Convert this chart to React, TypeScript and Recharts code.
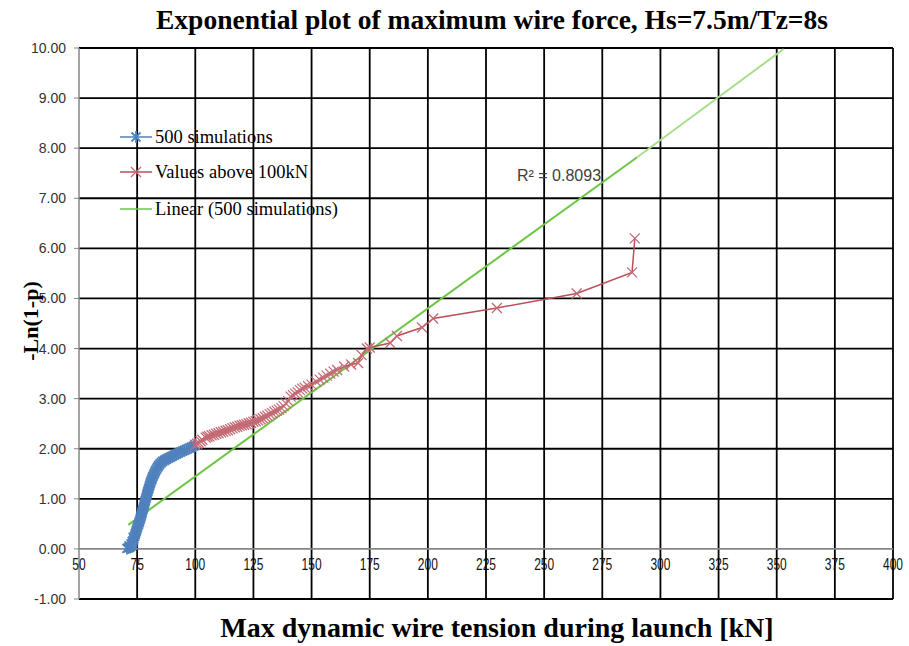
import React from 'react';
import { ScatterChart, Scatter, XAxis, YAxis, CartesianGrid, ReferenceLine } from 'recharts';

// axis ticks
const X_TICKS = [50, 75, 100, 125, 150, 175, 200, 225, 250, 275, 300, 325, 350, 375, 400];
const Y_TICKS = [-1, 0, 1, 2, 3, 4, 5, 6, 7, 8, 9, 10];

// [max wire tension kN, -ln(1-p)]
const SIMULATIONS: [number, number][] = [
  [70.6, 0.01], [71.2, 0.02], [71.8, 0.03], [72.3, 0.05], [71.5, 0.06], [72.8, 0.08], [72.4, 0.1],
  [73.1, 0.12], [72.9, 0.15], [73.4, 0.17], [73.6, 0.2], [73.3, 0.23], [73.9, 0.25], [74.1, 0.28],
  [74.3, 0.31], [74.5, 0.34], [74.7, 0.37], [74.9, 0.4], [75.1, 0.43], [75.3, 0.46], [75.6, 0.49],
  [75.8, 0.52], [76.0, 0.55], [76.2, 0.58], [76.4, 0.61], [76.6, 0.64], [76.8, 0.67], [77.0, 0.7],
  [77.1, 0.73], [77.3, 0.76], [77.5, 0.79], [77.7, 0.82], [77.9, 0.85], [78.0, 0.88], [78.2, 0.91],
  [78.4, 0.94], [78.5, 0.97], [78.7, 1.0], [78.9, 1.03], [79.1, 1.06], [79.2, 1.09], [79.4, 1.12],
  [79.6, 1.15], [79.8, 1.18], [80.0, 1.21], [80.2, 1.24], [80.4, 1.27], [80.6, 1.3], [80.8, 1.33],
  [81.0, 1.36], [81.3, 1.39], [81.5, 1.42], [81.8, 1.45], [82.1, 1.48], [82.4, 1.51], [82.7, 1.54],
  [83.0, 1.57], [83.4, 1.6], [83.8, 1.63], [84.2, 1.66], [84.7, 1.69], [85.3, 1.72], [86.0, 1.75],
  [86.8, 1.77], [87.5, 1.79], [88.3, 1.81], [89.2, 1.83], [90.0, 1.85], [90.9, 1.87], [91.8, 1.89],
  [92.7, 1.91], [93.6, 1.93], [94.5, 1.95], [95.4, 1.97], [96.4, 1.99], [97.4, 2.01], [98.4, 2.03],
  [99.3, 2.05], [100.0, 2.07],
];

const ABOVE_100: [number, number][] = [
  [100.0, 2.08], [100.8, 2.1], [101.5, 2.12], [102.3, 2.15], [103, 2.18], [104.5, 2.22], [105.2, 2.24],
  [106, 2.25], [107, 2.27], [108, 2.28], [109, 2.3], [110, 2.31], [111, 2.33], [112, 2.34], [113, 2.36],
  [114, 2.37], [115, 2.39], [116, 2.41], [117, 2.43], [118, 2.44], [119, 2.46], [120, 2.47], [121, 2.48],
  [122, 2.49], [123, 2.51], [124, 2.52], [125, 2.54], [126, 2.55], [127, 2.57], [128, 2.59], [129, 2.61],
  [130, 2.64], [131, 2.66], [132, 2.69], [133, 2.71], [134, 2.74], [135, 2.76], [136, 2.78], [137, 2.81],
  [138, 2.85], [139, 2.9], [140, 2.95], [141, 3.04], [142, 3.07], [143, 3.1], [144, 3.13], [145, 3.17],
  [146, 3.2], [147, 3.22], [148.5, 3.25], [150, 3.28], [152, 3.34], [153.5, 3.38], [155, 3.42],
  [156.5, 3.46], [158, 3.5], [159.5, 3.54], [161, 3.57], [164, 3.64], [167, 3.68], [170, 3.71],
  [171.5, 3.87], [173.8, 4.0], [175, 4.02], [183.8, 4.11], [186.7, 4.25], [197.5, 4.42], [202.3, 4.6],
  [229.7, 4.81], [264, 5.1], [287.8, 5.52], [289, 6.2],
];

// linear trendline, fitted part and forward forecast
const TREND_FIT: [number, number][] = [[71.2, 0.48], [290, 7.82]];
const TREND_FORECAST: [number, number][] = [[290, 7.82], [353, 9.98]];
const R2_LABEL = 'R² = 0.8093';

const BLUE = '#4f81bd';
const RED = '#b9505a';
const GREEN = '#6cc644';
const GREEN_LIGHT = '#a9de8c';
const AXIS_GRAY = '#868686';

const W = 909;
const H = 646;
const PLOT = { left: 79, top: 48, right: 893, bottom: 599 };
const ZERO_Y = PLOT.top + (10 / 11) * (PLOT.bottom - PLOT.top);

const toPts = (arr: [number, number][]) => arr.map(([x, y]) => ({ x, y }));

const StarMark = (props: any) => {
  const { cx, cy } = props;
  const r = 6;
  const d = r * 0.75;
  return (
    <g stroke={BLUE} strokeWidth={1.8}>
      <line x1={cx - d} y1={cy - d} x2={cx + d} y2={cy + d} />
      <line x1={cx - d} y1={cy + d} x2={cx + d} y2={cy - d} />
      <line x1={cx} y1={cy - r} x2={cx} y2={cy + r} />
    </g>
  );
};

const CrossMark = (props: any) => {
  const { cx, cy } = props;
  const d = 5;
  return (
    <g stroke="#c46a75" strokeWidth={1.3}>
      <line x1={cx - d} y1={cy - d} x2={cx + d} y2={cy + d} />
      <line x1={cx - d} y1={cy + d} x2={cx + d} y2={cy - d} />
    </g>
  );
};

const NoMark = () => <g />;

const renderXTick = (props: any) => {
  const { x, payload } = props;
  return (
    <g transform={`translate(${x},${ZERO_Y + 21}) scale(0.75,1)`}>
      <text x={0} y={0} textAnchor="middle" fontSize={16} fill="#111" fontFamily="'Liberation Sans', Arial, sans-serif">
        {payload.value}
      </text>
    </g>
  );
};

const serif = "'Liberation Serif', 'Times New Roman', serif";

function LegendRow({ top, label, kind }: { top: number; label: string; kind: 'star' | 'x' | 'line' }) {
  const color = kind === 'star' ? BLUE : kind === 'x' ? RED : GREEN;
  return (
    <div style={{ position: 'absolute', left: 120, top: top - 12, height: 24, display: 'flex', alignItems: 'center' }}>
      <svg width={33} height={24}>
        <line x1={0} y1={12} x2={32} y2={12} stroke={color} strokeWidth={1.5} />
        {kind === 'star' && <StarMark cx={16} cy={12} />}
        {kind === 'x' && <CrossMark cx={16} cy={12} />}
      </svg>
      <span style={{ fontFamily: serif, fontSize: 18.5, color: '#000', marginLeft: 2, whiteSpace: 'nowrap' }}>{label}</span>
    </div>
  );
}

export default function App() {
  return (
    <div style={{ position: 'absolute', left: 0, top: 0, width: W, height: H, background: '#fff', overflow: 'hidden' }}>
      <ScatterChart
        width={W}
        height={H}
        margin={{ top: PLOT.top, right: W - PLOT.right, bottom: H - PLOT.bottom - 20, left: 0 }}
      >
        <CartesianGrid
          stroke="#000"
          strokeWidth={1.8}
          horizontalValues={Y_TICKS.filter(v => v !== 0)}
          verticalValues={X_TICKS.filter(v => v !== 50)}
        />
        <XAxis
          type="number"
          dataKey="x"
          domain={[50, 400]}
          ticks={X_TICKS}
          height={20}
          axisLine={false}
          tickLine={false}
          tick={renderXTick}
          interval={0}
          allowDataOverflow
        />
        <YAxis
          type="number"
          dataKey="y"
          domain={[-1, 10]}
          ticks={Y_TICKS}
          width={PLOT.left}
          interval={0}
          tickFormatter={(v: number) => v.toFixed(2)}
          axisLine={{ stroke: AXIS_GRAY, strokeWidth: 1.5 }}
          tickLine={{ stroke: AXIS_GRAY }}
          tickSize={5}
          tickMargin={8}
          tick={{ fontSize: 14, fill: '#333', fontFamily: "'Liberation Sans', Arial, sans-serif" }}
          allowDataOverflow
        />
        <ReferenceLine y={0} stroke={AXIS_GRAY} strokeWidth={1.8} />
        <Scatter data={toPts(TREND_FIT)} line={{ stroke: GREEN, strokeWidth: 2 }} lineType="joint" shape={<NoMark />} isAnimationActive={false} />
        <Scatter data={toPts(TREND_FORECAST)} line={{ stroke: GREEN_LIGHT, strokeWidth: 2 }} lineType="joint" shape={<NoMark />} isAnimationActive={false} />
        <Scatter data={toPts(SIMULATIONS)} line={{ stroke: BLUE, strokeWidth: 3 }} lineType="joint" shape={<StarMark />} isAnimationActive={false} />
        <Scatter data={toPts(ABOVE_100)} line={{ stroke: RED, strokeWidth: 1.5 }} lineType="joint" shape={<CrossMark />} isAnimationActive={false} />
      </ScatterChart>

      <div style={{ position: 'absolute', left: 79, top: 4, width: 826, textAlign: 'center', fontFamily: serif, fontWeight: 'bold', fontSize: 27.5, color: '#000', whiteSpace: 'nowrap' }}>
        Exponential plot of maximum wire force, Hs=7.5m/Tz=8s
      </div>
      <div style={{ position: 'absolute', left: 79, top: 612, width: 836, textAlign: 'center', fontFamily: serif, fontWeight: 'bold', fontSize: 28, color: '#000', whiteSpace: 'nowrap' }}>
        Max dynamic wire tension during launch [kN]
      </div>
      <div style={{ position: 'absolute', left: 31, top: 321, transform: 'translate(-50%, -50%) rotate(-90deg)', fontFamily: serif, fontWeight: 'bold', fontSize: 22, color: '#000', whiteSpace: 'nowrap' }}>
        -Ln(1-p)
      </div>
      <div style={{ position: 'absolute', left: 517, top: 167, fontFamily: "'Liberation Sans', Arial, sans-serif", fontSize: 16, color: '#404040', whiteSpace: 'nowrap' }}>
        {R2_LABEL}
      </div>

      <LegendRow top={137} label="500 simulations" kind="star" />
      <LegendRow top={172} label="Values above 100kN" kind="x" />
      <LegendRow top={209} label="Linear (500 simulations)" kind="line" />
    </div>
  );
}
